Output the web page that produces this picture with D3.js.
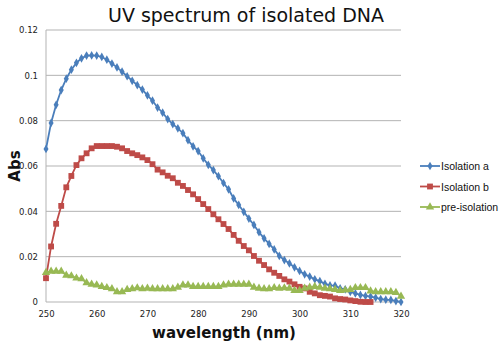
<!DOCTYPE html>
<html>
<head>
<meta charset="utf-8">
<script src="https://cdn.jsdelivr.net/npm/d3@7"></script>
<style>
  body { margin: 0; background: #fff; }
  text { font-family: "DejaVu Sans", Verdana, sans-serif; }
</style>
</head>
<body>
<script>
// wavelengths 250..320 nm, one reading per nm
const startNm = 250;

const isolationA = [
  0.0675, 0.079, 0.087, 0.0935, 0.0985, 0.1025, 0.1055, 0.1075, 0.1087, 0.1088,
  0.1087, 0.1081, 0.1069, 0.1052, 0.1035, 0.1016, 0.0996, 0.0976, 0.0957, 0.0937,
  0.0912, 0.0888, 0.0858, 0.0835, 0.0807, 0.0785, 0.0766, 0.0745, 0.0714, 0.0687,
  0.0666, 0.0634, 0.0605, 0.0582, 0.0555, 0.0525, 0.0497, 0.0457, 0.0428, 0.0398,
  0.0368, 0.034, 0.0308, 0.0281, 0.0256, 0.0232, 0.0203, 0.0185, 0.017, 0.0153,
  0.0137, 0.0122, 0.0112, 0.0100, 0.0092, 0.008, 0.0073, 0.0072, 0.006, 0.0056,
  0.0045, 0.0038, 0.0031, 0.0027, 0.0024, 0.0019, 0.0013, 0.0010, 0.0009, 0.0004,
  0.0
];

const isolationB = [
  0.0105, 0.0245, 0.0345, 0.0424, 0.0506, 0.0556, 0.0604, 0.0634, 0.0656, 0.0678,
  0.0688, 0.0688, 0.0688, 0.0688, 0.0685, 0.0678, 0.0666, 0.0656, 0.0648, 0.0638,
  0.0626, 0.0608, 0.0584, 0.0572, 0.0557, 0.0546, 0.0526, 0.0512, 0.0494, 0.0475,
  0.0454, 0.0432, 0.041, 0.0387, 0.0365, 0.0344, 0.0322, 0.0296, 0.027, 0.0247,
  0.0228, 0.0203, 0.0182, 0.0163, 0.0144, 0.0129, 0.0115, 0.01, 0.009, 0.0078,
  0.0067, 0.006, 0.0045, 0.0038, 0.003, 0.0027, 0.0024, 0.0016, 0.0013, 0.0011,
  0.0007, 0.0004, 0.0001, 0.0, 0.0
];

const preIsolation = [
  0.013, 0.0135, 0.0135, 0.0135, 0.0118, 0.0115, 0.0105, 0.0102, 0.0085, 0.0078,
  0.0075, 0.0068, 0.0063, 0.0058, 0.0045, 0.0045, 0.0055, 0.0058, 0.0062, 0.0058,
  0.006, 0.0058, 0.0058, 0.0058, 0.0058, 0.0058, 0.0065, 0.0075, 0.0075, 0.0068,
  0.0068, 0.0068, 0.0068, 0.0068, 0.0068, 0.0075, 0.0078, 0.0078, 0.0078, 0.0078,
  0.0078, 0.0065, 0.006, 0.0058, 0.0058, 0.0063, 0.006, 0.0062, 0.006, 0.005,
  0.005, 0.006, 0.0065, 0.0068, 0.0065, 0.006, 0.0058, 0.0055, 0.005, 0.0052,
  0.0055, 0.0063, 0.0063, 0.0063, 0.0048, 0.0045, 0.0045, 0.0045, 0.0045, 0.0042,
  0.0025
];

const xTicks = [250, 260, 270, 280, 290, 300, 310, 320];
const yTicks = [0, 0.02, 0.04, 0.06, 0.08, 0.1, 0.12];

const seriesNames = ["Isolation a", "Isolation b", "pre-isolation"];
const seriesColors = ["#4a7ebb", "#be4b48", "#98b954"];

const width = 500, height = 344;
const margin = { left: 46, right: 99, top: 30, bottom: 42 };

const svg = d3.select("body").append("svg")
    .attr("width", width)
    .attr("height", height);

const x = d3.scaleLinear().domain([250, 320]).range([margin.left, width - margin.right]);
const y = d3.scaleLinear().domain([0, 0.12]).range([height - margin.bottom, margin.top]);

// gridlines
svg.append("g")
    .selectAll("line")
    .data(yTicks)
    .join("line")
    .attr("x1", margin.left)
    .attr("x2", width - margin.right)
    .attr("y1", d => y(d))
    .attr("y2", d => y(d))
    .attr("stroke", "#b3b3b3")
    .attr("stroke-width", 1);

// y axis line
svg.append("line")
    .attr("x1", margin.left).attr("x2", margin.left)
    .attr("y1", y(0.12)).attr("y2", y(0))
    .attr("stroke", "#b3b3b3");

// y tick labels
const yAxis = d3.axisLeft(y).tickValues(yTicks).tickSize(0).tickPadding(8)
    .tickFormat(d => d === 0 ? "0" : d3.format("~g")(d));
const gy = svg.append("g").attr("transform", `translate(${margin.left},0)`).call(yAxis);
gy.select(".domain").remove();
gy.selectAll("text").attr("font-size", 8.5).attr("fill", "#222")
    .style("font-family", "DejaVu Sans, Verdana, sans-serif");

// x tick labels
const xAxis = d3.axisBottom(x).tickValues(xTicks).tickSize(0).tickPadding(9);
const gx = svg.append("g").attr("transform", `translate(0,${y(0)})`).call(xAxis);
gx.select(".domain").remove();
gx.selectAll("text").attr("font-size", 8.5).attr("fill", "#222")
    .style("font-family", "DejaVu Sans, Verdana, sans-serif");

// series
const allSeries = [isolationA, isolationB, preIsolation].map((vals, i) => ({
    name: seriesNames[i],
    color: seriesColors[i],
    points: vals.map((v, j) => ({ nm: startNm + j, v: v }))
}));

const line = d3.line().x(d => x(d.nm)).y(d => y(d.v));
const symbols = [d3.symbolDiamond, d3.symbolSquare, d3.symbolTriangle];
const symbolSizes = [22, 34, 30];

allSeries.forEach((s, i) => {
    svg.append("path")
        .datum(s.points)
        .attr("d", line)
        .attr("fill", "none")
        .attr("stroke", s.color)
        .attr("stroke-width", 1.8);

    svg.append("g")
        .selectAll("path")
        .data(s.points)
        .join("path")
        .attr("transform", d => `translate(${x(d.nm)},${y(d.v)})`)
        .attr("d", d3.symbol().type(symbols[i]).size(symbolSizes[i]))
        .attr("fill", s.color);
});

// legend
const legend = svg.append("g").attr("transform", "translate(420,166)");
allSeries.forEach((s, i) => {
    const g = legend.append("g").attr("transform", `translate(0,${i * 20.5})`);
    g.append("line").attr("x1", 0).attr("x2", 20).attr("y1", 0).attr("y2", 0)
        .attr("stroke", s.color).attr("stroke-width", 1.8);
    g.append("path").attr("transform", "translate(10,0)")
        .attr("d", d3.symbol().type(symbols[i]).size(symbolSizes[i]))
        .attr("fill", s.color);
    g.append("text").attr("x", 21).attr("y", 4)
        .attr("font-size", 10.5).attr("fill", "#111")
        .style("font-family", "'Liberation Sans', Arial, sans-serif")
        .text(s.name);
});

// title
svg.append("text")
    .attr("x", 246).attr("y", 22)
    .attr("text-anchor", "middle")
    .attr("font-size", 19)
    .attr("fill", "#111")
    .text("UV spectrum of isolated DNA");

// axis titles
svg.append("text")
    .attr("x", 224).attr("y", 338)
    .attr("text-anchor", "middle")
    .attr("font-size", 15)
    .attr("font-weight", "bold")
    .attr("fill", "#111")
    .text("wavelength (nm)");

svg.append("text")
    .attr("transform", "translate(20,166) rotate(-90)")
    .attr("text-anchor", "middle")
    .attr("font-size", 15)
    .attr("font-weight", "bold")
    .attr("fill", "#111")
    .text("Abs");
</script>
</body>
</html>
